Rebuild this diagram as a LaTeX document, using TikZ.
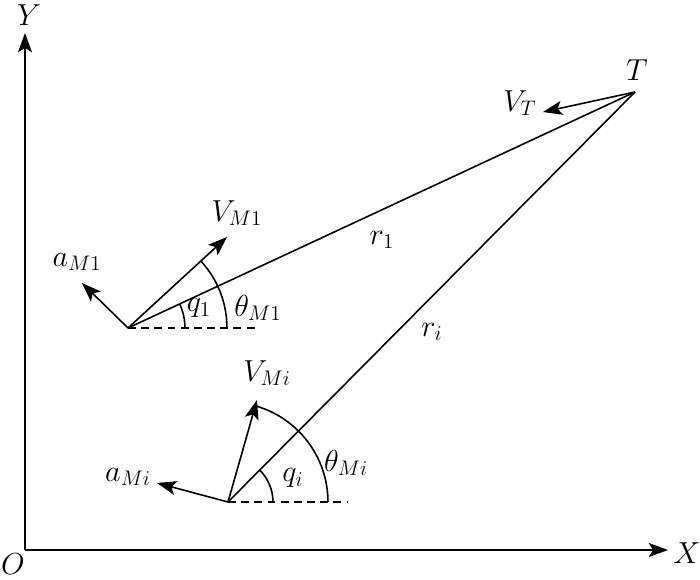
\documentclass[tikz,border=0pt]{standalone}
\usetikzlibrary{arrows.meta,angles,positioning}
\tikzstyle{vec}=[-{Stealth[length=11pt,width=8pt,inset=2.5pt]},line width=0.9pt]
\tikzstyle{los}=[line width=0.9pt]
\tikzstyle{ref}=[line width=0.9pt,dash pattern=on 4.5pt off 3pt]
\tikzstyle{lbl}=[font=\fontsize{17}{20}\selectfont,inner sep=0pt]
\begin{document}
\begin{tikzpicture}[x=0.02cm,y=0.02cm,>=Stealth]
    \useasboundingbox (-25,-29) rectangle (675,550);

    % axes
    \coordinate (O) at (0,0);
    \coordinate (Ytip) at (0,517);
    \coordinate (Xtip) at (643,0);
    \draw[vec] (O) -- (Ytip);
    \draw[vec] (O) -- (Xtip);
    \node[lbl] (Ylab) at (4,535) {$Y$};
    \node[lbl] (Olab) at (-12,-14) {$O$};
    \node[lbl] (Xlab) at (662,-3) {$X$};

    % target and missiles
    \coordinate (T) at (610,458);
    \coordinate (M1) at (103,222);
    \coordinate (Mi) at (203,48);
    \coordinate (E1) at (230,222);
    \coordinate (Ei) at (322,48);
    \coordinate (V1) at (202,313);
    \coordinate (A1) at (57,267);
    \coordinate (Vi) at (232,150);
    \coordinate (Ai) at (132,67);
    \coordinate (VT) at (518,438);

    \draw[los] (M1) -- (T);
    \draw[los] (Mi) -- (T);
    \draw[ref] (M1) -- (E1);
    \draw[ref] (Mi) -- (Ei);
    \draw[vec] (M1) -- (V1);
    \draw[vec] (M1) -- (A1);
    \draw[vec] (Mi) -- (Vi);
    \draw[vec] (Mi) -- (Ai);
    \draw[vec] (T) -- (VT);

    \pic[draw,line width=0.9pt,angle radius=1.14cm] {angle=E1--M1--T};
    \pic[draw,line width=0.9pt,angle radius=1.98cm] {angle=E1--M1--V1};
    \pic[draw,line width=0.9pt,angle radius=0.9cm] {angle=Ei--Mi--T};
    \pic[draw,line width=0.9pt,angle radius=2cm] {angle=Ei--Mi--Vi};

    \node[lbl] (Tlab) at (612,480) {$T$};
    \node[lbl] (VTlab) at (495,447) {$V_T$};
    \node[lbl] (V1lab) at (212,337) {$V_{M1}$};
    \node[lbl] (A1lab) at (52,288) {$a_{M1}$};
    \node[lbl] (q1lab) at (174,242) {$q_1$};
    \node[lbl] (th1lab) at (233,242) {$\theta_{M1}$};
    \node[lbl] (r1lab) at (357,310) {$r_1$};
    \node[lbl] (rilab) at (407,218) {$r_i$};
    \node[lbl] (Vilab) at (242,177) {$V_{Mi}$};
    \node[lbl] (Ailab) at (103,73) {$a_{Mi}$};
    \node[lbl] (qilab) at (268,72) {$q_i$};
    \node[lbl] (thilab) at (321,87) {$\theta_{Mi}$};
\end{tikzpicture}
\end{document}
